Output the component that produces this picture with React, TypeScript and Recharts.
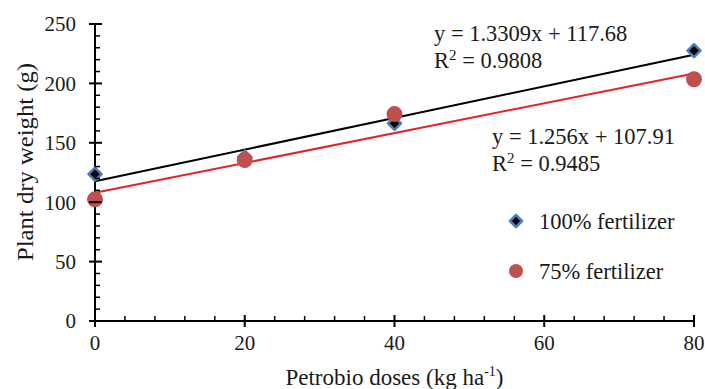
import { ComposedChart, Line, Scatter, XAxis, YAxis, Customized } from 'recharts';

const doses = [0, 20, 40, 80];
const fullFert = [123.7, 138, 166.4, 227.5];
const reducedFert = [102.4, 135.5, 174.2, 203.5];

// trend line ends, at x = 0 and x = 80
const trendX = [0, 80];
const trendFull = [117.68, 224.15];
const trendReduced = [107.91, 208.39];

const xTicks = [0, 4, 8, 12, 16, 20, 24, 28, 32, 36, 40, 44, 48, 52, 56, 60, 64, 68, 72, 76, 80];
const yTicks = [0, 10, 20, 30, 40, 50, 60, 70, 80, 90, 100, 110, 120, 130, 140, 150, 160, 170, 180, 190, 200, 210, 220, 230, 240, 250];

const FONT = 'Liberation Serif, Times New Roman, serif';
const TXT = '#1a1a1a';
const BLUE = '#4a7ebb';
const RED_DOT = '#c0504d';
const RED_LINE = '#e3232a';

const W = 705;
const H = 389;
const MARGIN = { top: 24, right: 11, bottom: 28, left: 40 };
const Y_AXIS_W = 55;
const X_AXIS_H = 40;
const AXIS_X = MARGIN.left + Y_AXIS_W;
const AXIS_Y = H - MARGIN.bottom - X_AXIS_H;

const fullData = doses.map((x, i) => ({ x, y: fullFert[i] }));
const reducedData = doses.map((x, i) => ({ x, y: reducedFert[i] }));
const fullTrend = trendX.map((x, i) => ({ x, y: trendFull[i] }));
const reducedTrend = trendX.map((x, i) => ({ x, y: trendReduced[i] }));

const tickStyle = { fontFamily: FONT, fontSize: 21, fill: TXT };
const noteStyle = { fontFamily: FONT, fontSize: 22.5, fill: TXT };
const titleStyle = { fontFamily: FONT, fontSize: 23, fill: TXT };

function Diamond({ cx, cy, half = 6.5 }: any) {
    return (
        <polygon
            points={`${cx},${cy - half} ${cx + half},${cy} ${cx},${cy + half} ${cx - half},${cy}`}
            fill="#000"
            stroke={BLUE}
            strokeWidth={2.5}
            strokeLinejoin="round"
        />
    );
}

function Dot({ cx, cy, rad = 8 }: any) {
    return <circle cx={cx} cy={cy} r={rad} fill={RED_DOT} />;
}

function YTick({ y, payload }: any) {
    const v = payload.value;
    const major = v % 50 === 0;
    return (
        <g>
            {major
                ? <line x1={AXIS_X - 6} x2={AXIS_X + 7} y1={y} y2={y} stroke="#000" strokeWidth={2} />
                : <line x1={AXIS_X} x2={AXIS_X + 5} y1={y} y2={y} stroke="#000" strokeWidth={1.5} />}
            {major && (
                <text x={AXIS_X - 19} y={y} dy="0.35em" textAnchor="end" style={tickStyle}>
                    {v}
                </text>
            )}
        </g>
    );
}

function XTick({ x, payload }: any) {
    const v = payload.value;
    const major = v % 20 === 0;
    return (
        <g>
            {major
                ? <line x1={x} x2={x} y1={AXIS_Y - 6} y2={AXIS_Y + 6} stroke="#000" strokeWidth={2} />
                : <line x1={x} x2={x} y1={AXIS_Y} y2={AXIS_Y - 5} stroke="#000" strokeWidth={1.5} />}
            {major && (
                <text x={x} y={AXIS_Y + 22} dy="0.35em" textAnchor="middle" style={tickStyle}>
                    {v}
                </text>
            )}
        </g>
    );
}

function Annotations() {
    const plotMidX = (AXIS_X + W - MARGIN.right) / 2;
    const yTitleX = 25;
    const yTitleY = 162;
    return (
        <g>
            <text x={434} y={41} style={noteStyle}>y = 1.3309x + 117.68</text>
            <text x={434} y={68} style={noteStyle}>R<tspan style={{ fontSize: 15 }} dy={-8}>2</tspan><tspan dy={8}> = 0.9808</tspan></text>
            <text x={492} y={144} style={noteStyle}>y = 1.256x + 107.91</text>
            <text x={492} y={171} style={noteStyle}>R<tspan style={{ fontSize: 15 }} dy={-8}>2</tspan><tspan dy={8}> = 0.9485</tspan></text>

            <Diamond cx={516} cy={221} half={6} />
            <text x={539} y={229} style={noteStyle}>100% fertilizer</text>
            <Dot cx={516} cy={271} rad={7} />
            <text x={539} y={279} style={noteStyle}>75% fertilizer</text>

            <text x={plotMidX} y={385} textAnchor="middle" style={titleStyle}>
                Petrobio doses (kg ha<tspan style={{ fontSize: 14 }} dy={-9}>-1</tspan><tspan dy={9}>)</tspan>
            </text>
            <text
                x={yTitleX}
                y={yTitleY}
                textAnchor="middle"
                dominantBaseline="central"
                textLength={198}
                lengthAdjust="spacingAndGlyphs"
                transform={`rotate(-90 ${yTitleX} ${yTitleY})`}
                style={titleStyle}
            >
                Plant dry weight (g)
            </text>
        </g>
    );
}

export default function App() {
    return (
        <div style={{ position: 'absolute', top: 0, left: 0, width: W, height: H, background: '#fff' }}>
            <ComposedChart width={W} height={H} margin={MARGIN}>
                <XAxis
                    type="number"
                    dataKey="x"
                    domain={[0, 80]}
                    ticks={xTicks}
                    interval={0}
                    height={X_AXIS_H}
                    tick={<XTick />}
                    tickLine={false}
                    axisLine={{ stroke: '#000', strokeWidth: 2 }}
                />
                <YAxis
                    type="number"
                    dataKey="y"
                    domain={[0, 250]}
                    ticks={yTicks}
                    interval={0}
                    width={Y_AXIS_W}
                    tick={<YTick />}
                    tickLine={false}
                    axisLine={{ stroke: '#000', strokeWidth: 2 }}
                />
                <Scatter data={fullData} dataKey="y" shape={<Diamond />} isAnimationActive={false} />
                <Scatter data={reducedData} dataKey="y" shape={<Dot />} isAnimationActive={false} />
                <Line data={fullTrend} dataKey="y" type="linear" stroke="#000" strokeWidth={2} dot={false} activeDot={false} isAnimationActive={false} />
                <Line data={reducedTrend} dataKey="y" type="linear" stroke={RED_LINE} strokeWidth={2} dot={false} activeDot={false} isAnimationActive={false} />
                <Customized component={Annotations} />
            </ComposedChart>
        </div>
    );
}
